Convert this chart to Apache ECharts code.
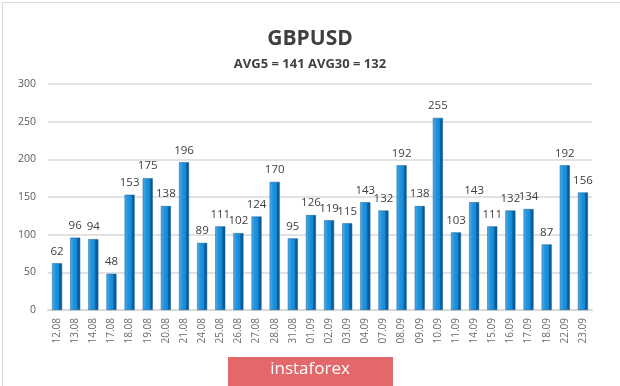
<!DOCTYPE html>
<html><head><meta charset="utf-8">
<script src="https://cdn.jsdelivr.net/npm/echarts@6/dist/echarts.min.js"></script>
<style>html,body{margin:0;padding:0;background:#fff}#c{width:620px;height:386px}</style>
</head><body><div id="c"></div>
<script>
const categories = ["12.08","13.08","14.08","17.08","18.08","19.08","20.08","21.08","24.08","25.08","26.08","27.08","28.08","31.08","01.09","02.09","03.09","04.09","07.09","08.09","09.09","10.09","11.09","14.09","15.09","16.09","17.09","18.09","22.09","23.09"];
const values = [62,96,94,48,153,175,138,196,89,111,102,124,170,95,126,119,115,143,132,192,138,255,103,143,111,132,134,87,192,156];
const yTicks = [0,50,100,150,200,250,300];
const titleText = "GBPUSD";
const subtitleText = "AVG5 = 141 AVG30 = 132";
const logoText = "instaforex";

const chart = echarts.init(document.getElementById('c'));
chart.setOption({
  backgroundColor: '#fff',
  animation: false,
  title: [
    {text: titleText, left: 'center', top: 24, textStyle: {fontFamily: 'Open Sans', fontSize: 21, fontWeight: 'bold', color: '#404040'}},
    {text: subtitleText, left: 'center', top: 53, textStyle: {fontFamily: 'Open Sans', fontSize: 13, fontWeight: 'bold', color: '#404040'}}
  ],
  grid: {left: 48, right: 28, top: 84, bottom: 76, containLabel: false},
  xAxis: {
    type: 'category', data: categories,
    axisLine: {show: true, lineStyle: {color: '#d9d9d9', width: 2}},
    axisTick: {show: false},
    axisLabel: {rotate: 90, color: '#6b6b6b', fontSize: 10, fontFamily: 'Open Sans', margin: 8}
  },
  yAxis: {
    type: 'value', min: 0, max: 300, interval: 50,
    axisLine: {show: false}, axisTick: {show: false},
    splitLine: {lineStyle: {color: '#d9d9d9', width: 1.5}},
    axisLabel: {color: '#595959', fontSize: 10.5, fontFamily: 'Open Sans', margin: 12,
      formatter: v => yTicks.includes(v) ? String(v) : ''}
  },
  series: [{
    type: 'bar', data: values, barWidth: 10,
    itemStyle: {
      color: new echarts.graphic.LinearGradient(0,0,1,0,[
        {offset:0, color:'#58b0ea'},{offset:0.3, color:'#2196e0'},{offset:0.68, color:'#1588d4'},{offset:0.72, color:'#0d65a8'},{offset:1, color:'#0a5290'}
      ]),
      borderColor: '#0c5a98', borderWidth: 0.5
    },
    label: {show: true, position: 'top', distance: 6, color: '#404040', fontSize: 11.5, fontFamily: 'Open Sans'}
  }],
  graphic: [
    {type: 'rect', left: 0, top: 0, shape: {width: 619, height: 385}, style: {fill: 'none', stroke: '#d9d9d9', lineWidth: 1}, z: 0},
    {type: 'rect', left: 228, top: 357, shape: {width: 165, height: 29}, style: {fill: '#e3686c'}, z: 10},
    {type: 'text', left: 'center', top: 361, style: {text: logoText, fill: '#fff', fontSize: 17, fontFamily: 'Open Sans'}, z: 11}
  ]
});
</script></body></html>
